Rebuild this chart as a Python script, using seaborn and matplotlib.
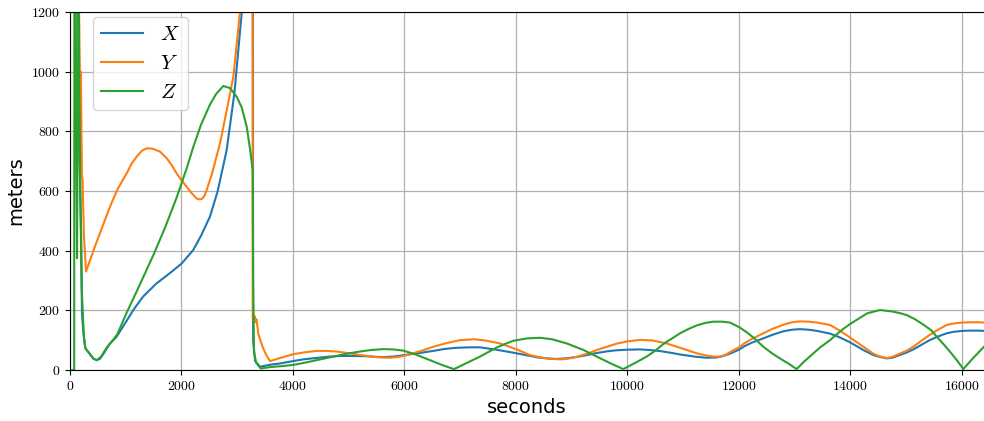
import numpy as np
import pandas as pd
import matplotlib
matplotlib.use("Agg")
import matplotlib.pyplot as plt
import seaborn as sns

# (seconds, meters)
x_t = [90, 130, 150, 165, 175, 185, 200, 215, 240, 275, 350, 420, 480, 540, 620,
       700, 837, 1016, 1150, 1311, 1550, 1794, 2003, 2210, 2350, 2510, 2650, 2810,
       2950, 3080, 3200, 3277, 3285, 3320, 3408, 3600, 3767, 4006, 4200, 4400,
       4600, 4843, 5100, 5321, 5600, 5800, 5919, 6200, 6517, 6700, 6900, 7150,
       7354, 7650, 7952, 8200, 8400, 8600, 8730, 8900, 9100, 9300, 9447, 9650,
       9800, 10000, 10224, 10400, 10600, 10800, 10942, 11200, 11420, 11600,
       11700, 11839, 12000, 12100, 12250, 12436, 12600, 12800, 12950, 13094,
       13250, 13400, 13632, 13800, 14000, 14230, 14400, 14500, 14649, 14750,
       14850, 15000, 15127, 15250, 15400, 15550, 15725, 15850, 16000, 16143,
       16300, 16395]
x_v = [1500, 1250, 1160, 900, 1000, 600, 450, 190, 125, 73, 55, 38, 33, 38, 60,
       85, 112, 165, 205, 246, 290, 325, 357, 402, 450, 514, 600, 737,
       930, 1197, 2500, 2500, 100, 30, 11, 18, 22, 30, 36, 40,
       44, 47, 47, 46, 43, 45, 48, 55, 64, 70, 74, 76,
       76, 68, 58, 49, 42, 38, 37, 39, 44, 51, 57, 63,
       66, 68, 69, 67, 63, 57, 52, 45, 41, 42,
       46, 55, 68, 80, 93, 106, 118, 130, 135, 137,
       135, 131, 122, 110, 92, 67, 51, 45, 39, 41,
       48, 58, 69, 82, 98, 111, 123, 128, 131, 132,
       132, 131]

y_t = [100, 120, 160, 180, 195, 205, 215, 225, 250, 287, 479, 717, 850, 1016,
       1100, 1196, 1290, 1375, 1480, 1614, 1734, 1820, 1913, 2000, 2093, 2180,
       2272, 2320, 2362, 2410, 2451, 2550, 2691, 2800, 2930, 3049, 3150, 3270,
       3278, 3290, 3300, 3315, 3330, 3345, 3380, 3450, 3520, 3587, 3800, 4006,
       4200, 4425, 4600, 4783, 5050, 5321, 5500, 5740, 5900, 6040, 6300, 6517,
       6750, 6996, 7250, 7450, 7713, 8000, 8251, 8450, 8600, 8750, 8849, 9000,
       9100, 9300, 9447, 9650, 9800, 10000, 10224, 10450, 10703, 10950, 11241,
       11400, 11540, 11650, 11750, 11839, 12000, 12100, 12250, 12436, 12600,
       12800, 12950, 13094, 13250, 13400, 13632, 13800, 14000, 14230, 14400,
       14500, 14649, 14750, 14850, 15000, 15127, 15250, 15400, 15550, 15725,
       15850, 16000, 16143, 16300, 16395]
y_v = [1500, 1500, 1250, 950, 1000, 800, 650, 640, 450, 330, 430, 547, 605, 659,
       690, 715, 735, 743, 742, 732, 710, 688, 659, 636, 614, 593,
       575, 572, 573, 583, 603, 660, 760, 860, 983, 1200, 2000, 2500,
       175, 185, 165, 180, 160, 170, 120, 80, 50, 30, 42, 53,
       59, 64, 64, 62, 55, 47, 43, 41, 44, 50, 64, 78,
       90, 100, 103, 99, 89, 70, 50, 42, 38, 36, 36, 40,
       45, 56, 67, 79, 88, 96, 101, 99, 89, 74, 56,
       49, 45, 45, 50, 60, 76, 90, 106, 123, 138,
       152, 160, 163, 162, 159, 151, 133, 108, 78, 56,
       47, 40, 44, 52, 64, 78, 95, 115, 133, 151,
       156, 159, 160, 160, 159]

z_t = [40, 75, 80, 100, 115, 126, 140, 155, 175, 210, 250, 275, 350, 420, 480,
       560, 658, 760, 843, 900, 1016, 1200, 1495, 1700, 1913, 2100, 2212, 2350,
       2511, 2620, 2750, 2870, 2990, 3080, 3169, 3230, 3277, 3285, 3300, 3340,
       3420, 3600, 3800, 4006, 4200, 4400, 4723, 4950, 5200, 5400, 5620, 5800,
       5979, 6200, 6457, 6700, 6888, 7100, 7354, 7650, 7800, 7952, 8200, 8430,
       8650, 8909, 9200, 9447, 9700, 9925, 10150, 10344, 10500, 10650, 10800,
       10942, 11100, 11250, 11400, 11540, 11700, 11839, 12000, 12150, 12300,
       12436, 12600, 12750, 12900, 13034, 13150, 13300, 13450, 13632, 13850,
       14000, 14111, 14300, 14529, 14750, 14900, 15008, 15150, 15300, 15450,
       15546, 15700, 15800, 15920, 16024, 16200, 16395]
z_v = [0, 0, 1600, 1400, 700, 375, 880, 1200, 700, 270, 110, 73, 55, 38, 33,
       45, 75, 98, 118, 142, 192, 265, 385, 475, 578, 680, 748, 822,
       890, 925, 952, 945, 916, 880, 816, 740, 670, 300, 60, 25,
       5, 10, 13, 17, 24, 32, 45, 54, 62, 67, 70, 69,
       65, 52, 33, 15, 3, 22, 45, 75, 87, 98, 106, 108,
       103, 89, 68, 45, 22, 3, 25, 45, 65, 88, 106,
       123, 138, 150, 158, 162, 162, 159, 144, 125, 102,
       78, 55, 37, 20, 3, 25, 50, 75, 100, 135,
       155, 168, 190, 201, 196, 190, 184, 171, 153, 133,
       112, 80, 58, 30, 3, 40, 78]

series = [("$X$", x_t, x_v), ("$Y$", y_t, y_v), ("$Z$", z_t, z_v)]
colors = sns.color_palette("tab10", 3)

plt.rcParams['font.family'] = 'cmr10'
plt.rcParams['mathtext.fontset'] = 'cm'
plt.rcParams['axes.formatter.use_mathtext'] = True

fig = plt.figure(figsize=(9.84, 4.21), dpi=100)
ax = fig.add_axes([70 / 984, 51 / 421, 914 / 984, 358 / 421])

for (name, t, v), c in zip(series, colors):
    df = pd.DataFrame({"t": t, "v": v})
    sns.lineplot(data=df, x="t", y="v", ax=ax, color=c, label=name,
                 estimator=None, sort=False, linewidth=1.5)

ax.set_xlim(0, 16395)
ax.set_ylim(0, 1200)
ax.set_xticks(np.arange(0, 16001, 2000))
ax.set_yticks(np.arange(0, 1201, 200))
ax.tick_params(labelsize=10)
ax.grid(True, color="#b0b0b0", linewidth=0.9)
ax.spines['right'].set_visible(False)

ax.set_xlabel("seconds", family="DejaVu Sans", fontsize=14)
ax.set_ylabel("meters", family="DejaVu Sans", fontsize=14)

ax.legend(loc="upper left", bbox_to_anchor=(23 / 914, 1 - 5 / 358), borderaxespad=0,
          fontsize=15, handlelength=2.0)

fig.savefig("out.png", dpi=100)
